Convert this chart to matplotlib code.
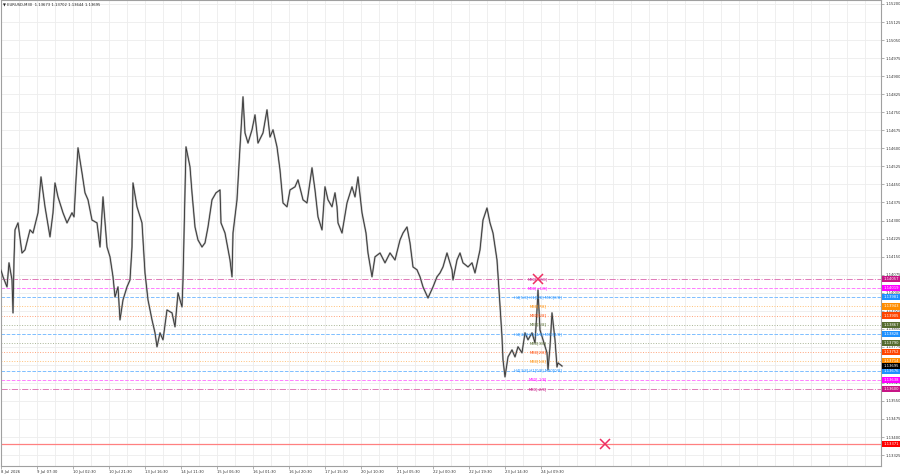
import matplotlib
matplotlib.use("Agg")
import matplotlib.pyplot as plt

# ---------------- data ----------------
symbol = "EURUSD,M30"
ohlc = [1.13673, 1.13702, 1.13644, 1.13695]

bars = [0, 3, 7, 9, 12, 13, 14, 15, 18, 22, 25, 30, 33, 38, 41, 45, 50, 53, 55, 58,
        63, 67, 72, 74, 76, 78, 82, 85, 88, 92, 97, 100, 103, 107, 110, 113, 115, 118,
        120, 123, 127, 130, 132, 133, 137, 142, 145, 148, 152, 155, 157, 160, 163, 167,
        172, 175, 178, 182, 183, 186, 190, 192, 195, 198, 202, 205, 208, 212, 216, 220,
        221, 225, 230, 232, 233, 237, 240, 243, 245, 248, 252, 255, 258, 263, 267, 270,
        273, 277, 280, 283, 287, 290, 295, 298, 303, 307, 312, 315, 318, 322, 325, 328,
        332, 335, 337, 338, 342, 347, 352, 355, 358, 362, 366, 368, 372, 375, 380, 385,
        390, 395, 400, 403, 407, 410, 413, 417, 420, 423, 428, 433, 437, 440, 443, 447,
        452, 453, 457, 460, 463, 468, 472, 475, 480, 483, 487, 490, 493, 497, 499, 502,
        503, 505, 508, 512, 515, 518, 522, 525, 528, 532, 535, 537, 538, 540, 543, 547,
        548, 550, 552, 555, 557, 558, 562]

prices = [1.14107, 1.14066, 1.14024, 1.14124, 1.14053, 1.13916, 1.14136, 1.14261, 1.14290,
          1.14165, 1.14178, 1.14261, 1.14248, 1.14332, 1.14481, 1.14357, 1.14232, 1.14332,
          1.14456, 1.14398, 1.14332, 1.14290, 1.14332, 1.14315, 1.14469, 1.14602, 1.14498,
          1.14415, 1.14386, 1.14302, 1.14290, 1.14190, 1.14398, 1.14190, 1.14149, 1.14066,
          1.13982, 1.14024, 1.13887, 1.13970, 1.14024, 1.14053, 1.14190, 1.14456, 1.14357,
          1.14290, 1.14082, 1.13970, 1.13887, 1.13833, 1.13775, 1.13833, 1.13804, 1.13928,
          1.13916, 1.13858, 1.13999, 1.13941, 1.14053, 1.14606, 1.14523, 1.14415, 1.14273,
          1.14219, 1.14190, 1.14207, 1.14273, 1.14386, 1.14415, 1.14427, 1.14290, 1.14248,
          1.14136, 1.14066, 1.14248, 1.14386, 1.14606, 1.14814, 1.14664, 1.14622, 1.14677,
          1.14739, 1.14622, 1.14664, 1.14760, 1.14647, 1.14677, 1.14606, 1.14510, 1.14373,
          1.14357, 1.14427, 1.14440, 1.14469, 1.14386, 1.14373, 1.14519, 1.14427, 1.14315,
          1.14261, 1.14440, 1.14386, 1.14357, 1.14415, 1.14357, 1.14290, 1.14248, 1.14373,
          1.14440, 1.14398, 1.14481, 1.14332, 1.14248, 1.14165, 1.14066, 1.14149, 1.14165,
          1.14124, 1.14165, 1.14136, 1.14219, 1.14248, 1.14273, 1.14207, 1.14107, 1.14095,
          1.14066, 1.14024, 1.13978, 1.14024, 1.14066, 1.14082, 1.14107, 1.14165, 1.14095,
          1.14053, 1.14136, 1.14165, 1.14124, 1.14107, 1.14124, 1.14082, 1.14178, 1.14302,
          1.14352, 1.14290, 1.14248, 1.14136, 1.14011, 1.13816, 1.13721, 1.13650, 1.13733,
          1.13762, 1.13733, 1.13775, 1.13750, 1.13833, 1.13804, 1.13833, 1.13791, 1.13928,
          1.14011, 1.13845, 1.13804, 1.13750, 1.13679, 1.13775, 1.13916, 1.13804, 1.13691,
          1.13708, 1.13695]

time_ticks = [1, 37, 73, 109, 145, 181, 217, 253, 289, 325, 361, 397, 433, 469, 505, 541]
time_labels = ["8 Jul 2026", "9 Jul 07:30", "10 Jul 02:30", "10 Jul 21:30", "13 Jul 16:30",
               "14 Jul 11:30", "15 Jul 06:30", "16 Jul 01:30", "16 Jul 20:30", "17 Jul 15:30",
               "20 Jul 10:30", "21 Jul 05:30", "22 Jul 00:30", "22 Jul 19:30", "23 Jul 14:30",
               "24 Jul 09:30"]

price_ticks = [1.13325, 1.13400, 1.13475, 1.13550, 1.13625, 1.13700, 1.13775, 1.13850,
               1.13925, 1.14000, 1.14075, 1.14150, 1.14225, 1.14300, 1.14375, 1.14450,
               1.14525, 1.14600, 1.14675, 1.14750, 1.14825, 1.14900, 1.14975, 1.15050,
               1.15125, 1.15200]
hidden_tick = 1.13700  # covered by the current-price box in the reference

level_prices = [1.14057, 1.14019, 1.13981, 1.13943, 1.13905, 1.13867, 1.13828,
                1.13790, 1.13752, 1.13714, 1.13676, 1.13638, 1.13600]
level_names = ["M30[+2/8]", "M30[+1/8]", "H4[5/8] H1[8/8] M30[8/8]", "M30[7/8]", "M30[6/8]",
               "M30[5/8]", "H4[4/8] H1[4/8] M30[4/8]", "M30[3/8]", "M30[2/8]", "M30[1/8]",
               "H4[3/8] H1[0/8] M30[0/8]", "M30[-1/8]", "M30[-2/8]"]
level_colors = ["#C71585", "#FF00FF", "#1E90FF", "#FF8C00", "#FF4500", "#556B2F", "#1E90FF",
                "#556B2F", "#FF4500", "#FF8C00", "#1E90FF", "#FF00FF", "#C71585"]
line_colors = ["#E07AB8", "#FF7FFF", "#7FBFFF", "#FFC27A", "#FFA27A", "#A8B596", "#7FBFFF",
               "#A8B596", "#FFA27A", "#FFC27A", "#7FBFFF", "#FF7FFF", "#E07AB8"]
level_styles = ["dashdot", "dashed", "dashed", "dotted", "dotted", "dotted", "dashed",
                "dotted", "dotted", "dotted", "dashed", "dashed", "dashdot"]

label_bar = 538
red_level = 1.13371
cross_bars = [538, 605]
cross_prices = [1.14057, 1.13371]

# ---------------- figure ----------------
fig = plt.figure(figsize=(9, 4.74), dpi=100)
ax = fig.add_axes([1 / 900, 8 / 474, 880 / 900, 466 / 474])
ax.set_xlim(1, 881)
ax.set_ylim(1.132795, 1.152166)

FS = 2.7
ax.set_axisbelow(True)
ax.set_xticks(time_ticks)
ax.set_xticks([t + 18 for t in time_ticks] + [577 + 18 * k for k in range(17)], minor=True)
ax.set_xticklabels(time_labels, fontsize=FS, ha="left", color="#303030")
ax.set_yticks(price_ticks)
ax.set_yticklabels(["" if abs(p - hidden_tick) < 1e-9 else f"{p:.5f}" for p in price_ticks],
                   fontsize=FS, color="#303030")
ax.yaxis.tick_right()
ax.grid(which="both", color="#EDEDED", lw=0.6)
ax.tick_params(axis="both", which="major", length=2, width=0.5, color="#909090", pad=1)
ax.tick_params(axis="x", which="minor", length=0)
for s in ax.spines.values():
    s.set_color("#A0A0A0")
    s.set_linewidth(0.8)

# Murrey levels
for p, c, ls in zip(level_prices, line_colors, level_styles):
    ax.axhline(p, color=c, lw=0.7, ls=ls, zorder=1)
ax.axhline(red_level, color="#FF8080", lw=0.9, zorder=1)

# price line (bars look)
ax.plot(bars, prices, color="#B0B0B0", lw=1.4, zorder=2)
ax.plot(bars, prices, color="#303030", lw=0.6, zorder=3)

# level labels on chart
for p, n, c in zip(level_prices, level_names, level_colors):
    ax.text(label_bar, p, n, fontsize=FS, color=c, ha="center", va="center", zorder=4)

# crosses
ax.plot(cross_bars, cross_prices, ls="none", marker="x", ms=7.5, mew=1.1,
        color="#EE2F62", zorder=5)

# boxed price labels on axis
ytr = ax.get_yaxis_transform()
box_prices = level_prices + [ohlc[3], red_level]
box_colors = level_colors + ["#000000", "#FF0000"]
for p, c in zip(box_prices, box_colors):
    ax.text(1.0025, p, f"{p:.5f}", transform=ytr, fontsize=FS, color="white",
            ha="left", va="center", zorder=6, clip_on=False,
            bbox=dict(boxstyle="square,pad=0.3", fc=c, ec="none"))

# title
fig.text(3 / 900, 1 - 4 / 474, "\u25BC " + symbol + "  " + " ".join(f"{v:.5f}" for v in ohlc),
         fontsize=FS, color="#202020", ha="left", va="center")

fig.savefig("out.png", dpi=100)
